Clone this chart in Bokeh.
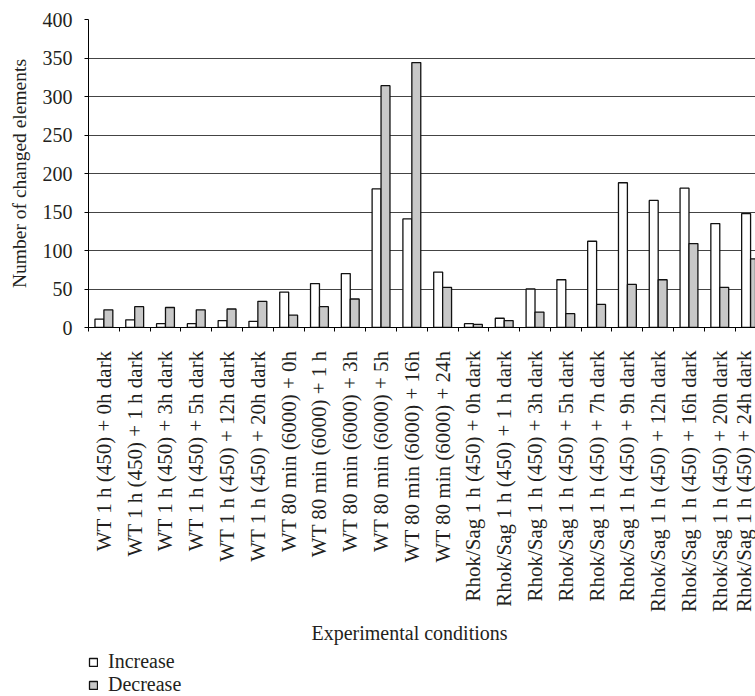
import math
from bokeh.plotting import figure
from bokeh.layouts import column
from bokeh.models import (Range1d, FixedTicker, Legend, LegendItem, ColumnDataSource, Label)
from bokeh.embed import file_html
from bokeh.resources import INLINE

categories = [
    "WT 1 h (450) + 0h dark",
    "WT 1 h (450) + 1 h dark",
    "WT 1 h (450) + 3h dark",
    "WT 1 h (450) + 5h dark",
    "WT 1 h (450) + 12h dark",
    "WT 1 h (450) + 20h dark",
    "WT 80 min (6000) + 0h",
    "WT 80 min (6000) + 1 h",
    "WT 80 min (6000) + 3h",
    "WT 80 min (6000) + 5h",
    "WT 80 min (6000) + 16h",
    "WT 80 min (6000) + 24h",
    "Rhok/Sag 1 h (450) + 0h dark",
    "Rhok/Sag 1 h (450) + 1 h dark",
    "Rhok/Sag 1 h (450) + 3h dark",
    "Rhok/Sag 1 h (450) + 5h dark",
    "Rhok/Sag 1 h (450) + 7h dark",
    "Rhok/Sag 1 h (450) + 9h dark",
    "Rhok/Sag 1 h (450) + 12h dark",
    "Rhok/Sag 1 h (450) + 16h dark",
    "Rhok/Sag 1 h (450) + 20h dark",
    "Rhok/Sag 1 h (450) + 24h dark",
]
increase = [11, 10, 5, 5, 9, 8, 46, 57, 70, 180, 141, 72, 5, 12, 50, 62, 112, 188, 165, 181, 135, 148]
decrease = [23, 27, 26, 23, 24, 34, 16, 27, 37, 314, 344, 52, 4, 9, 20, 18, 30, 56, 62, 109, 52, 89]
y_ticks = [0, 50, 100, 150, 200, 250, 300, 350, 400]
series_names = ["Increase", "Decrease"]
x_title = "Experimental conditions"
y_title = "Number of changed elements"

FONT = "Liberation Serif"
TXT = "#231f20"
INC_FILL = "white"
DEC_FILL = "#c8c8c8"
EDGE = "#111111"

n = len(categories)
centers = [i + 0.5 for i in range(n)]
src = ColumnDataSource(dict(
    x_inc=[i + 0.355 for i in range(n)],
    x_dec=[i + 0.645 for i in range(n)],
    inc=increase, dec=decrease,
))

p = figure(width=755, height=619, output_backend="svg", toolbar_location=None,
           x_range=Range1d(0, 21.66), y_range=Range1d(0, 400),
           min_border_left=88, min_border_top=19, min_border_right=0, min_border_bottom=292)
p.outline_line_color = None
p.xgrid.grid_line_color = None
p.ygrid.grid_line_color = "#444444"
p.ygrid.grid_line_width = 1
p.ygrid.ticker = FixedTicker(ticks=y_ticks)

p.vbar(x="x_inc", top="inc", width=0.29, bottom=0, source=src,
       fill_color=INC_FILL, line_color=EDGE, line_width=1.3)
p.vbar(x="x_dec", top="dec", width=0.29, bottom=0, source=src,
       fill_color=DEC_FILL, line_color=EDGE, line_width=1.3)

# x axis
xa = p.xaxis[0]
xa.ticker = FixedTicker(ticks=centers, minor_ticks=list(range(n + 1)))
xa.major_label_overrides = {c: lab for c, lab in zip(centers, categories)}
xa.major_label_orientation = math.pi / 2
xa.major_tick_out = 0
xa.major_tick_in = 0
xa.minor_tick_out = 4
xa.minor_tick_in = 0
xa.minor_tick_line_color = "black"
xa.axis_line_color = "black"
xa.major_label_standoff = 19
xa.major_label_text_font = FONT
xa.major_label_text_font_size = "21px"
xa.major_label_text_color = TXT

# y axis
ya = p.yaxis[0]
ya.ticker = FixedTicker(ticks=y_ticks)
ya.major_tick_out = 4
ya.major_tick_in = 0
ya.minor_tick_line_color = None
ya.axis_line_color = "black"
ya.major_label_standoff = 12
ya.major_label_text_font = FONT
ya.major_label_text_font_size = "20px"
ya.major_label_text_color = TXT
ya.axis_label = y_title
ya.axis_label_text_font = FONT
ya.axis_label_text_font_size = "19.5px"
ya.axis_label_text_font_style = "normal"
ya.axis_label_text_color = TXT
ya.axis_label_standoff = 10

# strip below the chart: x-axis title and legend (its bars are hidden)
lf = figure(width=755, height=77, output_backend="svg", toolbar_location=None,
            x_range=Range1d(1000, 1001), y_range=Range1d(-1000, -999),
            x_axis_location=None, y_axis_location=None,
            min_border_left=0, min_border_right=0, min_border_top=0, min_border_bottom=0)
lf.outline_line_color = None
lf.xgrid.grid_line_color = None
lf.ygrid.grid_line_color = None
g_inc = lf.vbar(x="x_inc", top="inc", width=0.29, bottom=0, source=src,
                fill_color=INC_FILL, line_color=EDGE, line_width=1.3, visible=False)
g_dec = lf.vbar(x="x_dec", top="dec", width=0.29, bottom=0, source=src,
                fill_color=DEC_FILL, line_color=EDGE, line_width=1.3, visible=False)
lf.add_layout(Label(x=321, y=64, x_units="screen", y_units="screen", text=x_title,
                    text_align="center", text_baseline="middle",
                    text_font=FONT, text_font_size="20px", text_color=TXT))
legend = Legend(items=[LegendItem(label=series_names[0], renderers=[g_inc]),
                       LegendItem(label=series_names[1], renderers=[g_dec])],
                location=(0, 0), orientation="vertical",
                border_line_color=None, background_fill_alpha=0,
                inactive_fill_alpha=0,
                margin=0, padding=0, spacing=0,
                glyph_width=10, glyph_height=10, label_standoff=10,
                label_text_font=FONT, label_text_font_size="20px", label_text_color=TXT,
                label_height=20)
lf.add_layout(legend, "center")

open("out.html", "w").write(file_html(column(p, lf, spacing=0), INLINE))
